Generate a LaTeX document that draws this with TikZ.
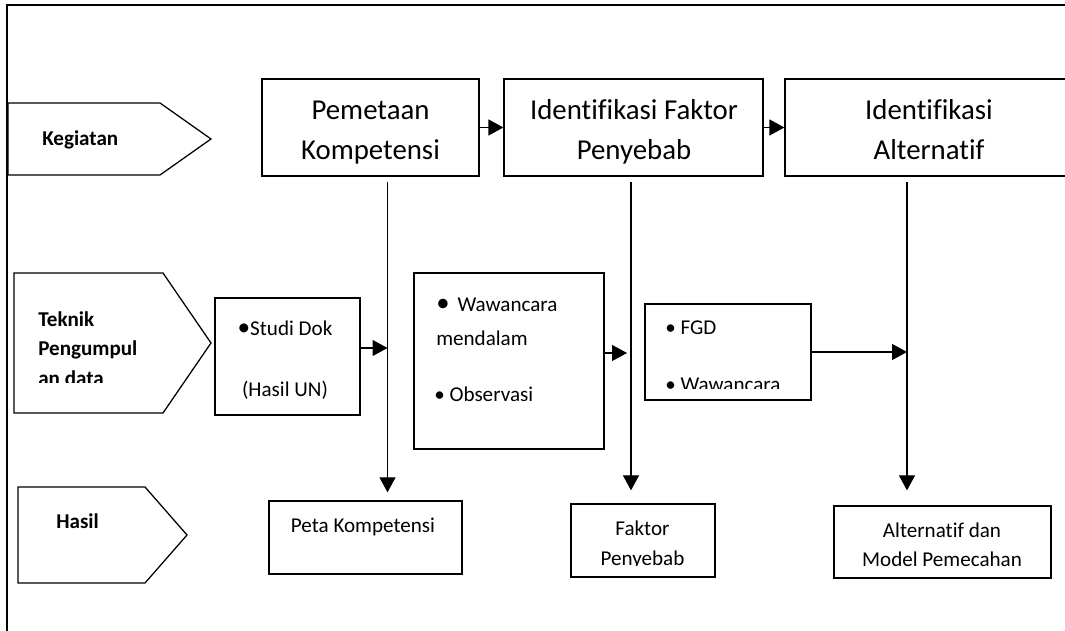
\documentclass[tikz,border=0pt]{standalone}
\usepackage{fontspec}
\setmainfont{Carlito}[Ligatures=NoCommon]
\usetikzlibrary{arrows.meta}

\begin{document}
\begin{tikzpicture}[
	box/.style={draw, line width=0.9pt, inner sep=0pt},
	arr/.style={line width=0.9pt, -{Triangle[length=0.375cm,width=0.4cm]}},
	big/.style={font=\fontsize{20.5}{24}\selectfont, inner sep=0pt, anchor=base},
	txt/.style={font=\fontsize{15}{18}\selectfont, inner sep=0pt, anchor=base},
	lbl/.style={font=\fontsize{15}{18}\selectfont\bfseries, inner sep=0pt, anchor=base west}]
	\useasboundingbox (0,0) rectangle (26.625,15.775);
	% frame
	\draw[line width=1.5pt] (0.175,-0.5) -- (0.175,15.65) -- (27,15.65);
	% row labels
	\draw[line width=0.9pt] (0.2,13.2) -- (4.0,13.2) -- (5.275,12.3) -- (4.0,11.4) -- (0.2,11.4) -- cycle;
	\node[lbl] at (1.05,12.125) (kegiatan) {Kegiatan};
	\draw[line width=0.9pt] (0.35,8.95) -- (4.075,8.95) -- (5.275,7.2) -- (4.075,5.45) -- (0.35,5.45) -- cycle;
	\node[lbl] at (0.95,7.6) (teknik) {Teknik};
	\node[lbl] at (0.95,6.875) (pengumpul) {Pengumpul};
	\begin{scope}
		\clip (0.4,6.2) rectangle (4,7);
		\node[lbl] at (0.95,6.125) (andata) {an data};
	\end{scope}
	\draw[line width=0.9pt] (0.45,3.6) -- (3.625,3.6) -- (4.675,2.4) -- (3.625,1.2) -- (0.45,1.2) -- cycle;
	\node[lbl] at (1.4,2.55) (hasil) {Hasil};
	% kegiatan
	\node[box, minimum width=5.425cm, minimum height=2.425cm] at (9.2625,12.5875) (pemetaan) {};
	\node[box, minimum width=6.475cm, minimum height=2.425cm] at (15.8375,12.5875) (faktor) {};
	\node[box, minimum width=7.2cm, minimum height=2.425cm] at (23.225,12.5875) (alternatif) {};
	\node[big] at (9.2625,12.775) (pemetaan1) {Pemetaan};
	\node[big] at (9.2625,11.7875) (pemetaan2) {Kompetensi};
	\node[big] at (15.85,12.775) (faktor1) {Identifikasi Faktor};
	\node[big] at (15.85,11.7875) (faktor2) {Penyebab};
	\node[big] at (23.225,12.775) (alternatif1) {Identifikasi};
	\node[big] at (23.225,11.7875) (alternatif2) {Alternatif};
	% teknik pengumpulan data
	\node[box, minimum width=3.625cm, minimum height=2.925cm] at (7.1875,6.8625) (studi) {};
	\node[box, minimum width=4.75cm, minimum height=4.4cm] at (12.725,6.75) (wawancara) {};
	\node[box, minimum width=4.15cm, minimum height=2.4cm] at (18.2,6.975) (fgd) {};
	\node[txt] at (7.125,7.375) (studi1) {{\fontsize{18}{18}\selectfont •}Studi Dok};
	\node[txt] at (7.125,5.85) (studi2) {(Hasil UN)};
	\node[txt, anchor=base west] at (10.9,7.975) (wawancara1) {{\fontsize{19}{19}\selectfont •}\hspace{0.2cm}Wawancara};
	\node[txt, anchor=base west] at (10.9,7.125) (wawancara2) {mendalam};
	\node[txt, anchor=base west] at (10.85,5.725) (wawancara3) {• Observasi};
	\node[txt, anchor=base west] at (16.625,7.4) (fgd1) {• FGD};
	\begin{scope}
		\clip (16.3,6.0625) rectangle (20,7);
		\node[txt, anchor=base west] at (16.625,5.975) (fgd2) {• Wawancara};
	\end{scope}
	% hasil
	\node[box, minimum width=4.825cm, minimum height=1.825cm] at (9.1375,2.3375) (peta) {};
	\node[box, minimum width=3.6cm, minimum height=1.825cm] at (16.075,2.2625) (penyebab) {};
	\node[box, minimum width=5.425cm, minimum height=1.8cm] at (23.5625,2.225) (model) {};
	\node[txt] at (9.075,2.45) (peta1) {Peta Kompetensi};
	\node[txt] at (16.0625,2.395) (penyebab1) {Faktor};
	\begin{scope}
		\clip (14.5,1.64) rectangle (17.6,2.2);
		\node[txt] at (16.0625,1.645) (penyebab2) {Penyebab};
	\end{scope}
	\node[txt] at (23.55,2.33) (model1) {Alternatif dan};
	\node[txt] at (23.55,1.6) (model2) {Model Pemecahan};
	% connectors
	\coordinate (colA) at (9.6875,0);
	\coordinate (colB) at (15.775,0);
	\coordinate (colC) at (22.675,0);
	\draw[arr] (pemetaan) -- (faktor);
	\draw[arr] (faktor) -- (alternatif);
	\draw[arr, shorten <=0.125cm, shorten >=0.2cm] (pemetaan.south -| colA) -- (peta.north -| colA);
	\draw[arr, shorten <=0.125cm, shorten >=0.325cm] (faktor.south -| colB) -- (penyebab.north -| colB);
	\draw[arr, shorten <=0.125cm, shorten >=0.375cm] (alternatif.south -| colC) -- (model.north -| colC);
	\coordinate (studiout) at ([yshift=2.125mm]studi.east);
	\coordinate (wawancaraout) at ([yshift=2mm]wawancara.east);
	\draw[arr] (studiout) -- (studiout -| colA);
	\draw[arr, shorten >=0.1cm] (wawancaraout) -- (wawancaraout -| colB);
	\draw[arr] (fgd.east) -- (fgd.east -| colC);
\end{tikzpicture}
\end{document}
